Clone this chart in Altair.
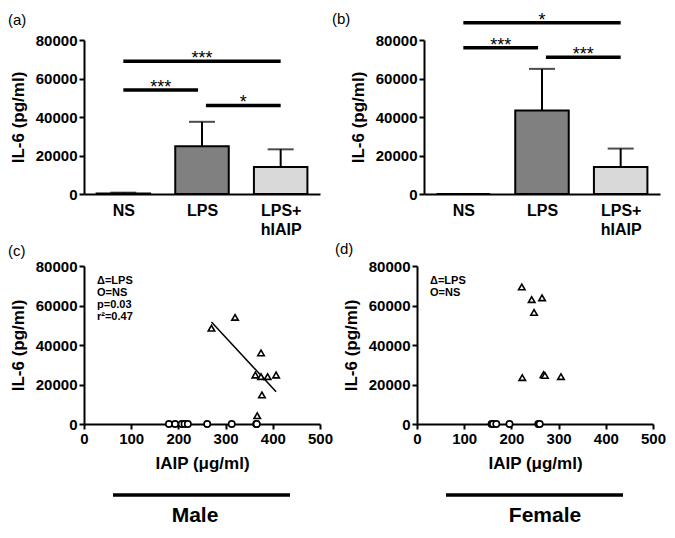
import json
import altair as alt
import pandas as pd

FONT = "Liberation Sans"
W = 236
H1, H2 = 154, 158

# ---------------- data ----------------
groups = ["NS", "LPS", "LPS+ hIAIP"]
group_pos = [0, 1, 2]

a_mean = [300, 24800, 14000]
a_sd = [400, 12700, 9200]
b_mean = [0, 43400, 14000]
b_sd = [0, 21600, 9600]

a_sig_from = [0, 0, 1]
a_sig_to = [2, 1, 2]
a_sig_y = [69000, 54000, 46000]
a_sig_text = ["***", "***", "*"]

b_sig_from = [0, 0, 1]
b_sig_to = [2, 1, 2]
b_sig_y = [89000, 76000, 71000]
b_sig_text = ["*", "***", "***"]

male_lps_iaip = [270, 320, 375, 363, 375, 389, 407, 377, 367]
male_lps_il6 = [48500, 54000, 36000, 24800, 24000, 24000, 24800, 14700, 4200]
male_ns_iaip = [180, 193, 207, 213, 220, 261, 313, 365, 366]
male_ns_il6 = [0, 0, 0, 0, 0, 0, 0, 0, 0]

female_lps_iaip = [222, 243, 265, 248, 223, 268, 271, 305]
female_lps_il6 = [69400, 63000, 63900, 56500, 23500, 25000, 24600, 24000]
female_ns_iaip = [158, 161, 168, 196, 257, 260]
female_ns_il6 = [0, 0, 0, 0, 0, 0]

y_ticks = [0, 20000, 40000, 60000, 80000]
x_ticks = [0, 100, 200, 300, 400, 500]

male_legend = ["Δ=LPS", "O=NS", "p=0.03", "r²=0.47"]
female_legend = ["Δ=LPS", "O=NS"]

Y_SCALE = alt.Scale(domain=[0, 80000], nice=False)
Y_AXIS = alt.Axis(values=y_ticks, tickCount=5, title="IL-6 (pg/ml)", format="d", labelOverlap=False)
ONE = pd.DataFrame({"k": [0]})


def yenc(field):
    return alt.Y(field, scale=Y_SCALE, axis=Y_AXIS)


def panel_label(tag, dx, dy):
    return alt.Chart(ONE).mark_text(text=tag, fontSize=15, font=FONT, align="left",
                                    baseline="bottom", color="black").encode(
        x=alt.value(dx), y=alt.value(dy))


def bar_panel(mean, sd, sf, st, sy, stext, tag, lx, ly):
    df = pd.DataFrame({"group": groups, "pos": group_pos, "mean": mean, "sd": sd})
    xs = alt.Scale(domain=[-0.5, 2.5], nice=False, zero=False)
    label_expr = "split(" + json.dumps(groups) + "[datum.value], ' ')"
    xax = alt.Axis(values=group_pos, labelExpr=label_expr, title=None, ticks=False,
                   labelFontSize=16, labelPadding=8, labelLineHeight=19,
                   labelAngle=0, labelFlush=False, labelOverlap=False)

    def xenc(field):
        return alt.X(field, scale=xs, axis=xax)

    base = alt.Chart(df).transform_calculate(
        left="datum.pos - 0.34", right="datum.pos + 0.34", top="datum.mean + datum.sd")
    bars = base.mark_bar(stroke="black", strokeWidth=2).encode(
        x=xenc("left:Q"),
        x2="right:Q",
        y=yenc("mean:Q"),
        y2=alt.datum(0),
        fill=alt.Fill("group:N", scale=alt.Scale(domain=groups, range=["#ffffff", "#808080", "#d9d9d9"]),
                      legend=None),
    )
    err = base.mark_rule(strokeWidth=2, color="black").encode(
        x=xenc("pos:Q"), y=yenc("mean:Q"), y2="top:Q")
    cap = base.mark_tick(orient="horizontal", size=26, thickness=2, color="black").encode(
        x=xenc("pos:Q"), y=yenc("top:Q"))
    sig = pd.DataFrame({"start": sf, "end": st, "y": sy, "label": stext})
    sbase = alt.Chart(sig).transform_calculate(
        xs="datum.start + ((datum.end - datum.start) == 1 && datum.start == 1 ? 0.05 : 0)"
    ).transform_calculate(
        xe="datum.end - ((datum.end - datum.start) == 1 && datum.end == 1 ? 0.05 : 0)"
    ).transform_calculate(xm="(datum.xs + datum.xe) / 2")
    srule = sbase.mark_rule(strokeWidth=3.5, color="black").encode(
        x=xenc("xs:Q"), x2="xe:Q", y=yenc("y:Q"))
    stxt = sbase.mark_text(fontSize=18, font=FONT, baseline="alphabetic", dy=3, color="black").encode(
        x=xenc("xm:Q"), y=yenc("y:Q"), text="label:N")
    return alt.layer(bars, err, cap, srule, stxt, panel_label(tag, lx, ly)).properties(
        width=W, height=H1)


def scatter_panel(lx, ly, nx, ny, legend_lines, sex, sex_x, tag, tx, ty, fit):
    lps = pd.DataFrame({"iaip": lx, "il6": ly})
    ns = pd.DataFrame({"iaip": nx, "il6": ny})
    xs = alt.Scale(domain=[0, 500], nice=False)
    xax = alt.Axis(values=x_ticks, tickCount=6, title="IAIP (μg/ml)", titlePadding=9, labelFlush=False,
                   labelOverlap=False)

    def xenc(field):
        return alt.X(field, scale=xs, axis=xax)

    layers = []
    ns_pts = alt.Chart(ns).mark_point(shape="circle", filled=True, fill="white", stroke="black",
                                      strokeWidth=1.6, size=40, opacity=1).encode(
        x=xenc("iaip:Q"), y=yenc("il6:Q"))
    layers.append(ns_pts)
    if fit:
        line = alt.Chart(lps).transform_regression("iaip", "il6").mark_line(
            color="black", strokeWidth=1.5).encode(x=xenc("iaip:Q"), y=yenc("il6:Q"))
        layers.append(line)
    lps_pts = alt.Chart(lps).mark_point(shape="triangle-up", filled=True, fill="white", stroke="black",
                                        strokeWidth=1.6, size=42, opacity=1).encode(
        x=xenc("iaip:Q"), y=yenc("il6:Q"))
    layers.append(lps_pts)
    legend = alt.Chart(ONE).mark_text(text=legend_lines, align="left", baseline="top", fontSize=11,
                                      fontWeight="bold", font=FONT, lineHeight=12, color="black").encode(
        x=alt.value(13), y=alt.value(9))
    layers.append(legend)
    bar = alt.Chart(ONE).mark_rule(strokeWidth=3.5, color="black").encode(
        x=alt.value(29), x2=alt.value(206), y=alt.value(H2 + 71))
    layers.append(bar)
    lab = alt.Chart(ONE).mark_text(text=sex, fontSize=21, fontWeight="bold", font=FONT, align="center",
                                   baseline="alphabetic", color="black").encode(
        x=alt.value(sex_x), y=alt.value(H2 + 98))
    layers.append(lab)
    layers.append(panel_label(tag, tx, ty))
    return alt.layer(*layers).properties(width=W, height=H2)


pa = bar_panel(a_mean, a_sd, a_sig_from, a_sig_to, a_sig_y, a_sig_text, "(a)", -76, -12)
pb = bar_panel(b_mean, b_sd, b_sig_from, b_sig_to, b_sig_y, b_sig_text, "(b)", -92, -13)
pc = scatter_panel(male_lps_iaip, male_lps_il6, male_ns_iaip, male_ns_il6, male_legend,
                   "Male", 111, "(c)", -76, -7, True)
pd_ = scatter_panel(female_lps_iaip, female_lps_il6, female_ns_iaip, female_ns_il6, female_legend,
                    "Female", 128, "(d)", -82, -9, False)

chart = alt.vconcat(
    alt.hconcat(pa, pb, spacing=12),
    alt.hconcat(pc, pd_, spacing=2),
    spacing=5,
).properties(
    padding={"left": 0, "top": 3, "right": 0, "bottom": 0}
).configure_axis(
    domainColor="black", domainWidth=2, tickColor="black", tickWidth=2, tickSize=5,
    labelColor="black", titleColor="black", labelFont=FONT, titleFont=FONT,
    labelFontWeight="bold", titleFontWeight="bold", labelFontSize=15, titleFontSize=17,
    grid=False, labelPadding=2, titlePadding=8,
).configure_view(stroke=None)

chart.save("out.html", embed_options={"renderer": "svg", "actions": False})
